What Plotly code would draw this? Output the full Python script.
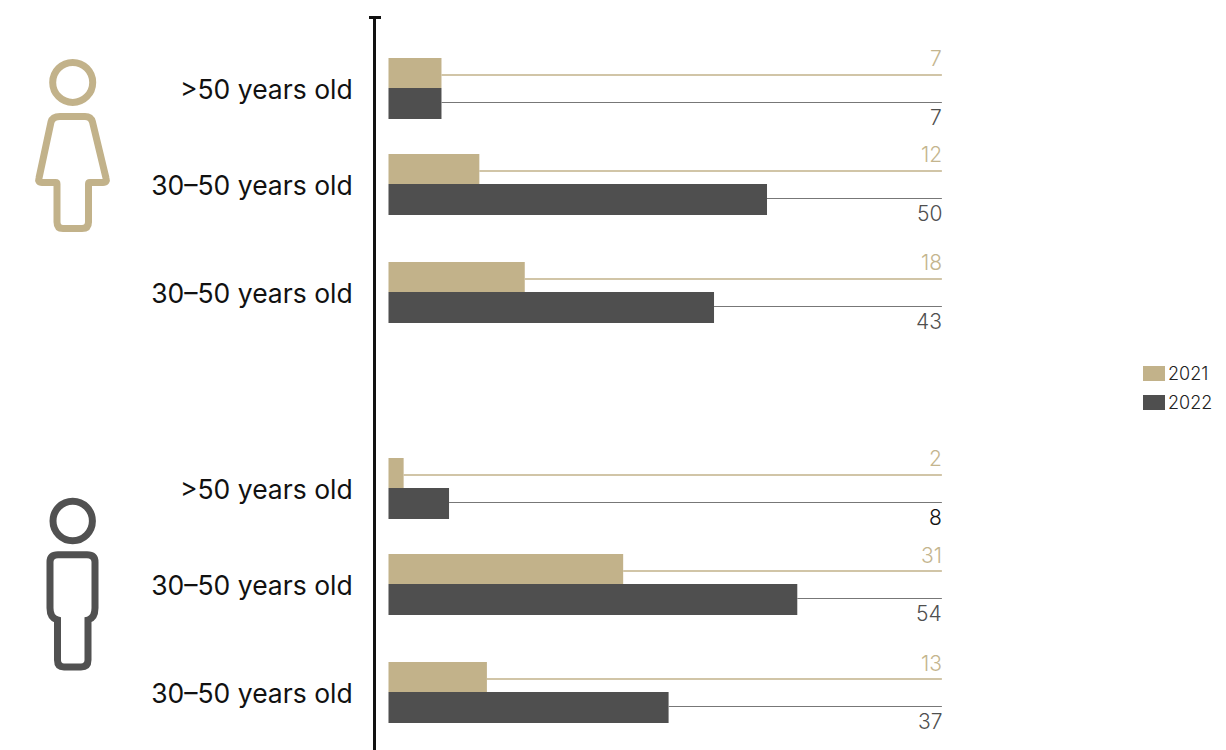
import plotly.graph_objects as go

# Data
age_labels = [">50 years old", "30–50 years old", "30–50 years old",
              ">50 years old", "30–50 years old", "30–50 years old"]
values_2021 = [7, 12, 18, 2, 31, 13]
values_2022 = [7, 50, 43, 8, 54, 37]
series_names = ["2021", "2022"]

# Layout constants
W, H = 1226, 750
TAN, DARK = "#C2B28A", "#4F4F4F"
FONT = "Inter"
row_pos = [0, 0.96, 2.04, 4.0, 4.96, 6.04]
BAR_TOP_H, BAR_LOW_H = 0.30, 0.31
LEADER_END = 73.1
X_MIN, X_MAX = -1.65, 110.63
Y_TOP, Y_BOTTOM = -0.71, 6.62


def px(x):
    return x / W


def py(y):
    return 1 - y / H


def path(cmds):
    out = []
    for c in cmds:
        out.append(c[0] + " ".join(
            f"{px(c[i]):.5f},{py(c[i + 1]):.5f}" for i in range(1, len(c), 2)))
    return " ".join(out) + " Z"


fig = go.Figure()
fig.add_bar(y=row_pos, x=values_2021, name=series_names[0], orientation="h",
            width=BAR_TOP_H, offset=-BAR_TOP_H, marker=dict(color=TAN, line_width=0), showlegend=False)
fig.add_bar(y=row_pos, x=values_2022, name=series_names[1], orientation="h",
            width=BAR_LOW_H, offset=0, marker=dict(color=DARK, line_width=0), showlegend=False)

# Leader lines from each bar to the value label
for vals, color, dy, lw, size_name in ((values_2021, TAN, -0.13, 1.4, "2021 leader"),
                                       (values_2022, "#777777", 0.145, 1, "2022 leader")):
    xs, ys = [], []
    for r, v in zip(row_pos, vals):
        xs += [v, LEADER_END, None]
        ys += [r + dy, r + dy, None]
    fig.add_scatter(x=xs, y=ys, mode="lines", line=dict(color=color, width=lw),
                    showlegend=False, hoverinfo="skip", name=size_name)

annotations = []
for i, r in enumerate(row_pos):
    annotations.append(dict(x=LEADER_END, y=r - 0.13, xref="x", yref="y", text=str(values_2021[i]),
                            showarrow=False, xanchor="right", yanchor="bottom", yshift=1.5, xshift=2,
                            font=dict(family=FONT, size=21, weight=300, color="#C4B58E")))
    annotations.append(dict(x=LEADER_END, y=r + 0.14, xref="x", yref="y", text=str(values_2022[i]),
                            showarrow=False, xanchor="right", yanchor="top", yshift=-1, xshift=2,
                            font=dict(family=FONT, size=21, weight=300, color="#111111" if i == 3 else DARK)))

# Hand-placed legend
shapes = []
for name, color, y0 in zip(series_names, (TAN, DARK), (366, 395)):
    shapes.append(dict(type="rect", xref="paper", yref="paper", layer="above",
                       x0=px(1143), x1=px(1165), y0=py(y0), y1=py(y0 + 15),
                       fillcolor=color, line_width=0))
    annotations.append(dict(x=px(1166), y=py(y0 + 7.5), xref="paper", yref="paper", text=name,
                            showarrow=False, xanchor="left", yanchor="middle",
                            font=dict(family=FONT, size=18, weight=300, color="#222222")))

# Axis cap
shapes.append(dict(type="line", xref="paper", yref="paper", x0=px(369), x1=px(381), y0=py(17.5), y1=py(17.5),
                   line=dict(color="#111111", width=3)))

# Figures
for cy, color, r in ((82.4, TAN, 20), (521, "#515151", 19.7)):
    shapes.append(dict(type="circle", xref="paper", yref="paper",
                       x0=px(72.7 - r), x1=px(72.7 + r), y0=py(cy - r), y1=py(cy + r),
                       fillcolor="rgba(0,0,0,0)", line=dict(color=color, width=7)))

woman = [("M", 60, 116.5), ("L", 85, 116.5), ("Q", 91, 116.5, 92.5, 122), ("L", 106, 178),
         ("Q", 107.5, 182.5, 103, 182.5), ("L", 90, 182.5), ("Q", 88.5, 182.5, 88.5, 184),
         ("L", 88.5, 222), ("Q", 88.5, 228.5, 82, 228.5), ("L", 63, 228.5), ("Q", 57, 228.5, 57, 222),
         ("L", 57, 184), ("Q", 57, 182.5, 55.5, 182.5),
         ("L", 42, 182.5), ("Q", 37.5, 182.5, 39, 178), ("L", 51, 122), ("Q", 52.5, 116.5, 60, 116.5)]
man = [("M", 58, 554.7), ("L", 87, 554.7), ("Q", 95, 554.7, 95, 562), ("L", 95, 608), ("Q", 95, 618, 88, 620),
       ("L", 88, 660), ("Q", 88, 667, 81, 667), ("L", 64, 667), ("Q", 57.5, 667, 57.5, 660), ("L", 57.5, 620),
       ("Q", 50, 618, 50, 608), ("L", 50, 562), ("Q", 50, 554.7, 58, 554.7)]
for cmds, color in ((woman, TAN), (man, "#515151")):
    shapes.append(dict(type="path", xref="paper", yref="paper", path=path(cmds),
                       fillcolor="rgba(0,0,0,0)", line=dict(color=color, width=7)))

fig.update_layout(
    width=W, height=H, autosize=False, margin=dict(l=0, r=0, t=0, b=0),
    paper_bgcolor="white", plot_bgcolor="white", barmode="overlay",
    showlegend=False, annotations=annotations, shapes=shapes,
    xaxis=dict(domain=[376 / W, 1], range=[X_MIN, X_MAX], visible=False, fixedrange=True),
    yaxis=dict(domain=[0, 1 - 17 / H], range=[Y_BOTTOM, Y_TOP], tickmode="array",
               tickvals=row_pos, ticktext=age_labels, ticks="", showgrid=False, zeroline=False,
               showline=True, linecolor="#111111", linewidth=3, ticklabelstandoff=15, ticklabelshift=-2,
               tickfont=dict(family=FONT, size=26.5, color="#111111"), fixedrange=True),
)
fig.write_html("out.html", config={"displayModeBar": False},
               post_script="document.body.style.margin='0';document.body.style.overflow='hidden';")
